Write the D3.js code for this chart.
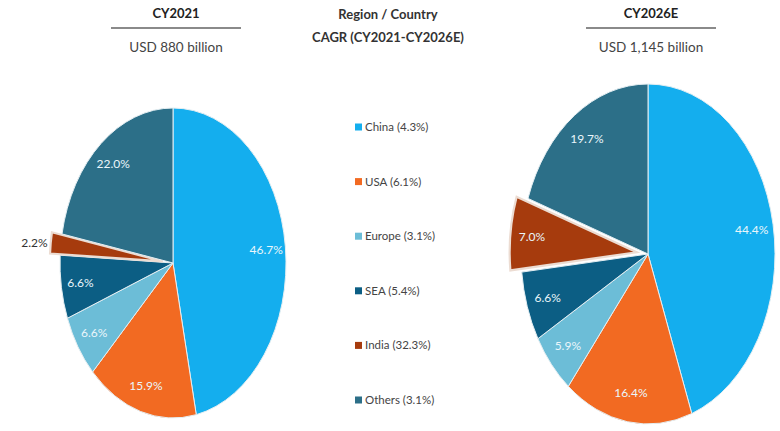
<!DOCTYPE html>
<html>
<head>
<meta charset="utf-8">
<script src="https://cdn.jsdelivr.net/npm/d3@7"></script>
<style>
  html, body { margin: 0; padding: 0; background: #fff; }
  svg { display: block; font-family: Lato, "Open Sans", sans-serif; }
</style>
</head>
<body>
<svg id="chart" width="780" height="431"></svg>
<script>
// Market split by region, share of total (%)
const regions = ["China", "USA", "Europe", "SEA", "India", "Others"];
const cagr = ["4.3%", "6.1%", "3.1%", "5.4%", "32.3%", "3.1%"];
const share2021 = [46.7, 15.9, 6.6, 6.6, 2.2, 22.0];
const share2026 = [44.4, 16.4, 5.9, 6.6, 7.0, 19.7];
const colors = ["#14aeee", "#f26a22", "#6cbdd7", "#0c5e84", "#a63b0d", "#2c6f88"];
const headers = [
  { year: "CY2021", size: "USD 880 billion" },
  { year: "CY2026E", size: "USD 1,145 billion" }
];
const legendTitle = ["Region / Country", "CAGR (CY2021-CY2026E)"];
const exploded = "India";

const svg = d3.select("#chart");
const color = d3.scaleOrdinal().domain(regions).range(colors);

// Unit pie (radius R) is stretched into an ellipse per panel
const R = 100;
const pie = d3.pie().sort(null).value(d => d.v);
const arc = d3.arc().innerRadius(0).outerRadius(R);
const explode = 9;

const panels = [
  { cx: 173, cy: 263, rx: 113, ry: 155, values: share2021, head: headers[0], outsideLabel: true },
  { cx: 648, cy: 254, rx: 127, ry: 170, values: share2026, head: headers[1], outsideLabel: false }
];

panels.forEach(p => {
  // header block
  const hx = p.cx + 3;
  svg.append("text").attr("x", hx).attr("y", 18).attr("text-anchor", "middle")
    .attr("font-size", 13).attr("font-weight", "bold").attr("fill", "#222").text(p.head.year);
  svg.append("line").attr("x1", hx - 65).attr("x2", hx + 65).attr("y1", 28).attr("y2", 28)
    .attr("stroke", "#8a8a8a").attr("stroke-width", 2);
  svg.append("text").attr("x", hx).attr("y", 52).attr("text-anchor", "middle")
    .attr("font-size", 13.5).attr("fill", "#444").text(p.head.size);

  const data = pie(regions.map((r, i) => ({ r, v: p.values[i] })));
  const g = svg.append("g")
    .attr("transform", `translate(${p.cx},${p.cy}) scale(${p.rx / R},${p.ry / R})`);

  g.selectAll("path").data(data).join("path")
    .attr("d", arc)
    .attr("transform", d => {
      if (d.data.r !== exploded) return null;
      const a = (d.startAngle + d.endAngle) / 2;
      return `translate(${Math.sin(a) * explode},${-Math.cos(a) * explode})`;
    })
    .attr("fill", d => color(d.data.r))
    .attr("stroke", d => d.data.r === exploded ? "#ecdcd2" : "#e4eef2")
    .attr("stroke-width", d => d.data.r === exploded ? 2.2 : 1)
    .attr("vector-effect", "non-scaling-stroke");

  // value labels
  data.forEach(d => {
    const a = (d.startAngle + d.endAngle) / 2;
    const isEx = d.data.r === exploded;
    const off = isEx ? explode / R : 0;
    let f = 0.83 + off, anchor = "middle", fill = "#eaf6fb";
    if (isEx && p.outsideLabel) { f = 1 + off; anchor = "end"; fill = "#333"; }
    const x = p.cx + Math.sin(a) * f * p.rx + (anchor === "end" ? -3 : 0);
    const y = p.cy - Math.cos(a) * f * p.ry;
    svg.append("text").attr("x", x).attr("y", y).attr("dy", "0.35em")
      .attr("text-anchor", anchor).attr("font-size", 12).attr("fill", fill)
      .text(d3.format(".1f")(d.data.v) + "%");
  });
});

// legend
const lg = svg.append("g");
legendTitle.forEach((t, i) => {
  lg.append("text").attr("x", 388).attr("y", 19 + i * 23).attr("text-anchor", "middle")
    .attr("font-size", 13).attr("font-weight", "bold").attr("fill", "#333").text(t);
});
const ly = d3.scalePoint().domain(regions).range([127, 400]);
regions.forEach((r, i) => {
  lg.append("rect").attr("x", 355).attr("y", ly(r) - 3.5).attr("width", 7).attr("height", 7)
    .attr("fill", color(r));
  lg.append("text").attr("x", 365).attr("y", ly(r)).attr("dy", "0.35em")
    .attr("font-size", 11.5).attr("fill", "#444").text(`${r} (${cagr[i]})`);
});
</script>
</body>
</html>
